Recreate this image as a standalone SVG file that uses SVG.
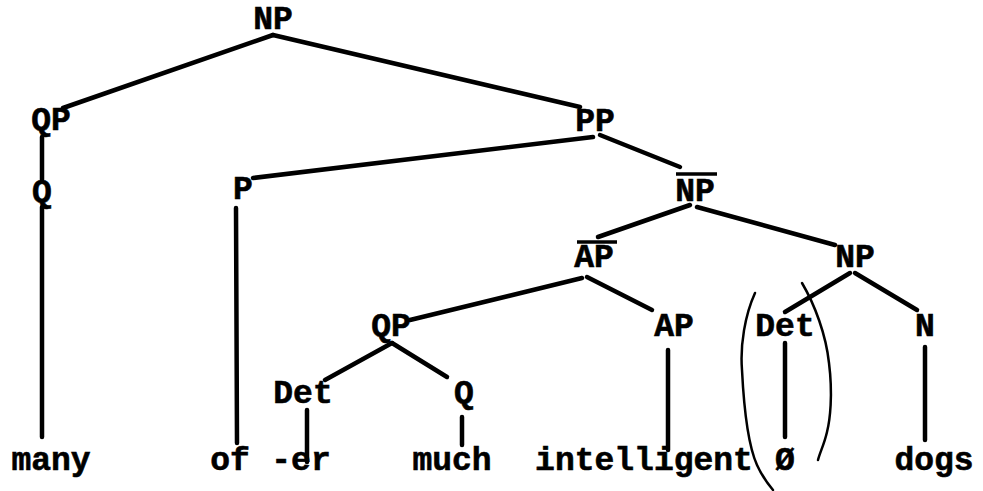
<svg xmlns="http://www.w3.org/2000/svg" width="983" height="491" viewBox="0 0 983 491">
<style>
text{font-family:"Liberation Mono","Courier New",monospace;font-weight:bold;font-size:33px;fill:#000;stroke:#000;stroke-width:0.6;text-anchor:middle}
.e{stroke:#000;stroke-width:4.5;stroke-linecap:round;fill:none}
.bar{stroke:#000;stroke-width:3.5;stroke-linecap:butt}
.par{stroke:#000;stroke-width:2.5;fill:none;stroke-linecap:round}
</style>
<rect width="983" height="491" fill="#fff"/>
<g id="edges">
<line class="e" x1="273" y1="35" x2="63" y2="108"/>
<line class="e" x1="273" y1="35" x2="580" y2="107"/>
<line class="e" x1="42" y1="137" x2="42" y2="180"/>
<line class="e" x1="42" y1="207" x2="42" y2="437"/>
<line class="e" x1="593" y1="137" x2="253" y2="178"/>
<line class="e" x1="236" y1="208" x2="237" y2="443"/>
<line class="e" x1="600" y1="135" x2="680" y2="167"/>
<line class="e" x1="690" y1="205" x2="598" y2="237"/>
<line class="e" x1="697" y1="207" x2="835" y2="245"/>
<line class="e" x1="582" y1="278" x2="410" y2="320"/>
<line class="e" x1="587" y1="277" x2="652" y2="310"/>
<line class="e" x1="668" y1="350" x2="668" y2="450"/>
<line class="e" x1="850" y1="273" x2="785" y2="312"/>
<line class="e" x1="855" y1="273" x2="917" y2="310"/>
<line class="e" x1="785" y1="343" x2="785" y2="437"/>
<line class="e" x1="925" y1="347" x2="925" y2="440"/>
<line class="e" x1="392" y1="343" x2="325" y2="380"/>
<line class="e" x1="392" y1="343" x2="447" y2="377"/>
<line class="e" x1="307" y1="410" x2="307" y2="462"/>
<line class="e" x1="462" y1="417" x2="462" y2="445"/>
</g>
<g id="n-NP-top"><text x="273" y="29">NP</text></g>
<g id="n-QP-left"><text x="51" y="130">QP</text></g>
<g id="n-PP"><text x="595" y="131">PP</text></g>
<g id="n-Q-left"><text x="42" y="202">Q</text></g>
<g id="n-P"><text x="243" y="199">P</text></g>
<g id="n-NPbar"><line class="bar" x1="676" y1="174" x2="717" y2="174"/><text x="695" y="201">NP</text></g>
<g id="n-APbar"><line class="bar" x1="577" y1="242" x2="617" y2="242"/><text x="594" y="267">AP</text></g>
<g id="n-NP-right"><text x="855" y="267">NP</text></g>
<g id="n-QP-mid"><text x="391" y="336">QP</text></g>
<g id="n-AP"><text x="674" y="336">AP</text></g>
<g id="n-Det-right"><text x="785" y="336">Det</text></g>
<g id="n-N"><text x="925" y="336">N</text></g>
<g id="n-Det-left"><text x="303" y="403">Det</text></g>
<g id="n-Q-mid"><text x="464" y="403">Q</text></g>
<g id="w-many"><text x="51" y="470">many</text></g>
<g id="w-of"><text x="230" y="470">of</text></g>
<g id="w-er"><text x="301" y="470">-er</text></g>
<g id="w-much"><text x="452" y="470">much</text></g>
<g id="w-intelligent"><text x="644" y="470">intelligent</text></g>
<g id="w-null"><text x="785" y="470">Ø</text></g>
<g id="w-dogs"><text x="934" y="470">dogs</text></g>
<g id="parens">
<path class="par" d="M755 293 C745 315 740 345 742 370 C744 410 748 445 757 465 C762 476 767 483 773 490"/>
<path class="par" d="M802 283 C815 305 826 335 829 363 C833 395 830 420 827 432 C824 445 820 452 818 460"/>
</g>
</svg>
